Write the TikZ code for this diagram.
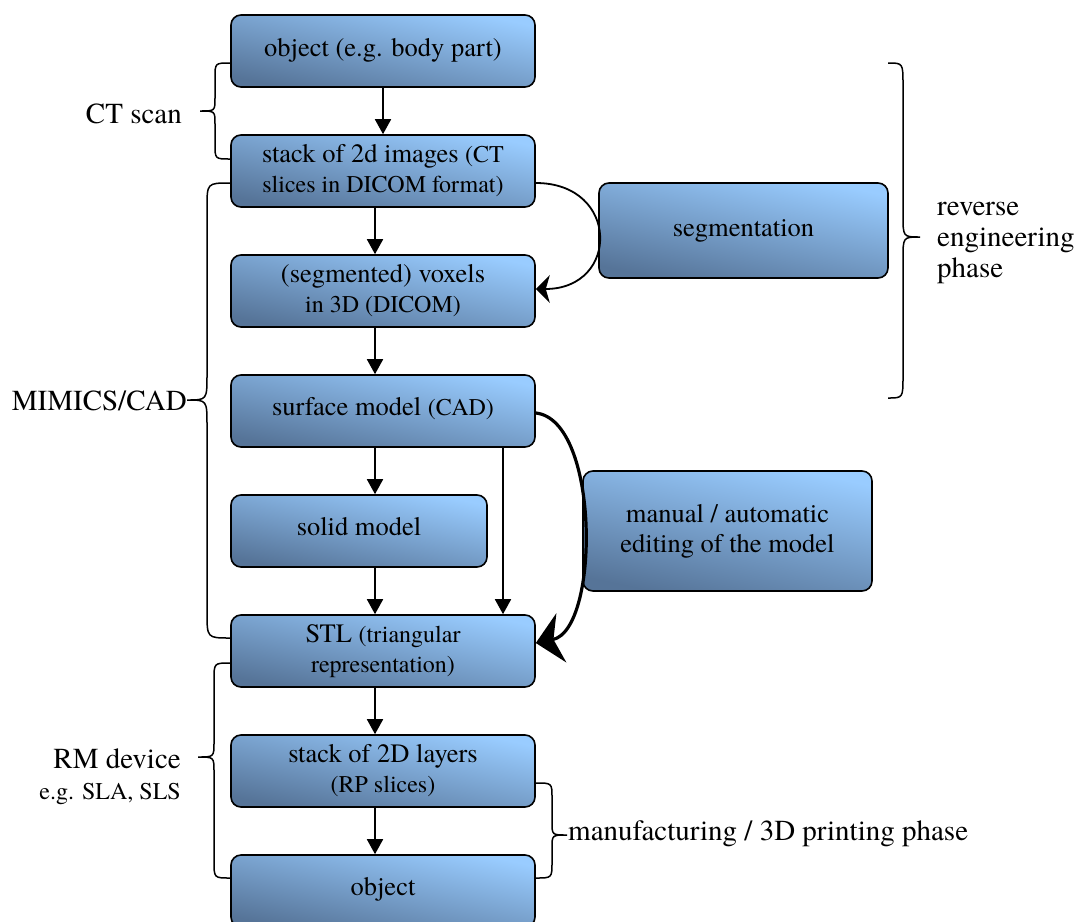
\documentclass[tikz,border=0pt]{standalone}
\usepackage{fontspec}
\setmainfont{texgyretermes}[Extension=.otf, UprightFont=*-regular, BoldFont=*-bold, ItalicFont=*-italic, BoldItalicFont=*-bolditalic]
\usetikzlibrary{arrows.meta,positioning,calc}

\definecolor{boxlight}{RGB}{153,204,255}
\definecolor{boxdark}{RGB}{86,116,152}
\newcommand{\fsbox}{\fontsize{26.5}{30}\selectfont}
\newcommand{\fssm}{\fontsize{24}{30}\selectfont}
\newcommand{\fslab}{\fontsize{29}{31}\selectfont}

\begin{document}
\begin{tikzpicture}[
    x=1pt, y=-1pt,
    box/.style={draw, line width=1.6pt, rounded corners=10pt, top color=boxlight, bottom color=boxdark, shading angle=-12, minimum width=304pt, minimum height=72pt, inner sep=2pt, align=center, font=\fsbox},
    sidebox/.style={box, minimum width=289pt},
    arr/.style={-{Triangle[length=15pt,width=16pt]}, line width=1.8pt},
    brace/.style={line width=1.5pt},
    lab/.style={font=\fslab, inner sep=0pt}
]
\useasboundingbox (0,0) rectangle (1081,921);

% Main column
\node[box] (obj1) at (383,51) {\raisebox{8pt}{object (e.g. body part)}};
\node[box] (stack) at (383,171) {stack of 2d images {\fssm(CT}\\{\fssm slices in DICOM format)}};
\node[box] (voxels) at (383,291) {(segmented) voxels\\{\fssm in 3D (DICOM)}};
\node[box] (surface) at (383,411) {\raisebox{9pt}{surface model {\fssm(CAD)}}};
\node[box, minimum width=256pt] (solid) at (359,531) {\raisebox{9pt}{solid model}};
\node[box] (stl) at (383,651) {STL {\fssm(triangular}\\{\fssm representation)}};
\node[box] (layers) at (383,771) {stack of 2D layers\\{\fssm(RP slices)}};
\node[box] (obj2) at (383,891) {\raisebox{10pt}{object}};

% Side boxes
\node[sidebox, minimum height=95pt] (seg) at (743.5,230.5) {segmentation};
\node[sidebox, minimum height=120pt] (edit) at (727.5,531) {manual / automatic\\editing of the model};

% Arrows
\draw[arr] (obj1.south) -- (stack.north);
\draw[arr] ([xshift=-8pt]stack.south) -- ([xshift=-8pt]voxels.north);
\draw[arr] ([xshift=-8pt]voxels.south) -- ([xshift=-8pt]surface.north);
\draw[arr] ([xshift=-8pt]surface.south) -- ([xshift=-8pt]surface.south |- solid.north);
\draw[arr] ([xshift=-8pt]stl.north |- solid.south) -- ([xshift=-8pt]stl.north);
\draw[arr] ([xshift=120pt]surface.south) -- ([xshift=120pt]stl.north);
\draw[arr] ([xshift=-8pt]stl.south) -- ([xshift=-8pt]layers.north);
\draw[arr] ([xshift=-8pt]layers.south) -- ([xshift=-8pt]obj2.north);

% Curved arrows past the side boxes
\draw[-{Stealth[length=14pt,width=28pt,inset=4pt]}, line width=1.8pt] ([yshift=-12pt]stack.east) .. controls (620,183) and (620,289) .. ([yshift=2pt]voxels.east);
\draw[-{Stealth[length=26pt,width=50pt,inset=8pt]}, line width=3.2pt] ([yshift=-2pt]surface.east) .. controls (600,420) and (600,630) .. ([yshift=8pt]stl.east);

% Braces on the left
\draw[brace] ([yshift=-12pt]obj1.west) .. controls (215,63) .. (215,78) -- (215,98) .. controls (215,111) .. (200,111) .. controls (215,111) .. (215,124) -- (215,144) .. controls (215,159) .. ([yshift=12pt]stack.west);
\node[lab, anchor=east] (ctlab) at (182,114) {CT scan};

\draw[brace] ([yshift=-12pt]stack.west) .. controls (207,183) .. (207,208) -- (207,375) .. controls (207,400) .. (187,400) .. controls (207,400) .. (207,425) -- (207,612) .. controls (207,638) .. ([yshift=13pt]stl.west);
\node[lab, anchor=east] (mimlab) at (187,401) {MIMICS/CAD};

\draw[brace] ([yshift=-12pt]stl.west) .. controls (214,663) .. (214,680) -- (214,742) .. controls (214,757) .. (198,757) .. controls (214,757) .. (214,772) -- (214,861) .. controls (214,878) .. ([yshift=13pt]obj2.west);
\node[lab, anchor=east, align=right] (rmlab) at (181,777) {RM device\\{\fssm e.g. SLA, SLS}};

% Braces on the right
\draw[brace] ([yshift=-12pt]layers.east) .. controls (552,783) .. (552,798) -- (552,822) .. controls (552,835) .. (567,835) .. controls (552,835) .. (552,848) -- (552,862) .. controls (552,878) .. ([yshift=13pt]obj2.east);
\node[lab, anchor=west] (mfglab) at (568,834) {manufacturing / 3D printing phase};

\draw[brace] (888,63) .. controls (903,63) .. (903,85) -- (903,215) .. controls (903,237) .. (920,237) .. controls (903,237) .. (903,259) -- (903,376) .. controls (903,398) .. (888,398);
\node[lab, anchor=west, align=left] (relab) at (937,243) {reverse\\engineering\\phase};

\end{tikzpicture}
\end{document}
